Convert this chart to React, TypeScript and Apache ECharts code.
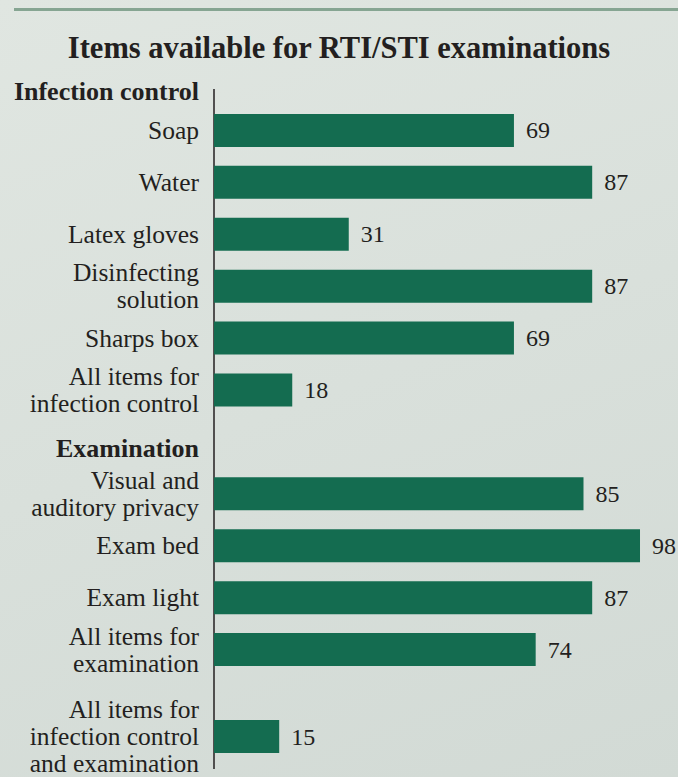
import React, { useEffect, useRef } from "react";
import * as echarts from "echarts";

const titleText = "Items available for RTI/STI examinations";
const groupHeaders = ["Infection control", "Examination"];
const categoriesMain = [
  "Soap",
  "Water",
  "Latex gloves",
  "Disinfecting\nsolution",
  "Sharps box",
  "All items for\ninfection control",
  "Examination",
  "Visual and\nauditory privacy",
  "Exam bed",
  "Exam light",
  "All items for\nexamination",
];
const valuesMain: (number | null)[] = [69, 87, 31, 87, 69, 18, null, 85, 98, 87, 74];
const categoriesTotal = ["All items for\ninfection control\nand examination"];
const valuesTotal = [15];

const FONT = "'Liberation Serif', 'Times New Roman', serif";
const INK = "#231f20";
const BAR = "#146c50";

export default function App() {
  const ref = useRef<HTMLDivElement>(null);
  useEffect(() => {
    if (!ref.current) return;
    const chart = echarts.init(ref.current, undefined, { renderer: "svg" });
    const axisLabel = {
      margin: 15,
      fontSize: 25.5,
      lineHeight: 27,
      color: INK,
      fontFamily: FONT,
      formatter: (v: string) => (groupHeaders.includes(v) ? `{h|${v}}` : v),
      rich: {
        h: {
          fontSize: 26,
          fontWeight: "bold",
          fontFamily: FONT,
          color: INK,
          padding: [13, 0, 0, 0],
        },
      },
    };
    const barLabel = {
      show: true,
      position: "right",
      distance: 12,
      fontSize: 24,
      color: INK,
      fontFamily: FONT,
    };
    chart.setOption({
      animation: false,
      title: {
        text: titleText,
        left: "center",
        top: 27,
        textStyle: {
          fontFamily: FONT,
          fontWeight: "bold",
          fontSize: 30.5,
          lineHeight: 31,
          color: INK,
        },
      },
      grid: [
        { left: 214, right: 29.3, top: 104.5, height: 571 },
        { left: 214, right: 29.3, top: 717.5, height: 52 },
      ],
      xAxis: [
        { type: "value", gridIndex: 0, min: 0, max: 100, show: false },
        { type: "value", gridIndex: 1, min: 0, max: 100, show: false },
      ],
      yAxis: [
        {
          type: "category",
          gridIndex: 0,
          inverse: true,
          data: categoriesMain,
          axisLine: { show: false },
          axisTick: { show: false },
          axisLabel,
        },
        {
          type: "category",
          gridIndex: 1,
          inverse: true,
          data: categoriesTotal,
          axisLine: { show: false },
          axisTick: { show: false },
          axisLabel,
        },
      ],
      series: [
        {
          type: "bar",
          xAxisIndex: 0,
          yAxisIndex: 0,
          data: valuesMain,
          barWidth: 33,
          itemStyle: { color: BAR },
          label: barLabel,
        },
        {
          type: "bar",
          xAxisIndex: 1,
          yAxisIndex: 1,
          data: valuesTotal,
          barWidth: 33,
          itemStyle: { color: BAR },
          label: barLabel,
        },
      ],
      graphic: [
        {
          type: "line",
          shape: { x1: 14, y1: 9.5, x2: 678, y2: 9.5 },
          style: { stroke: "#86a592", lineWidth: 3 },
        },
        {
          type: "line",
          shape: { x1: 214, y1: 89, x2: 214, y2: 769 },
          style: { stroke: INK, lineWidth: 1.5 },
        },
        {
          type: "text",
          x: 199,
          y: 91,
          style: {
            text: groupHeaders[0],
            align: "right",
            verticalAlign: "middle",
            fontSize: 26,
            fontWeight: "bold",
            fontFamily: FONT,
            fill: INK,
          },
        },
      ],
    });
    return () => chart.dispose();
  }, []);
  return (
    <div
      style={{
        position: "absolute",
        left: 0,
        top: 0,
        width: 678,
        height: 777,
        background: "linear-gradient(160deg, #e0e6e1 0%, #d9e0db 50%, #d2dad5 100%)",
      }}
    >
      <div ref={ref} style={{ width: 678, height: 777 }} />
    </div>
  );
}
